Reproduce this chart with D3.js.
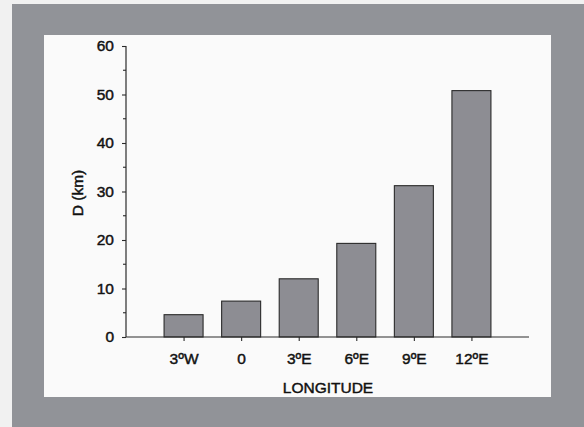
<!DOCTYPE html>
<html>
<head>
<meta charset="utf-8">
<script src="https://cdn.jsdelivr.net/npm/d3@7"></script>
<style>
  html, body { margin: 0; padding: 0; background: #f1f1f1; }
  svg { display: block; }
  text { font-family: "Liberation Sans", Arial, sans-serif; fill: #111; stroke: #111; stroke-width: 0.45px; }
</style>
</head>
<body>
<svg id="chart" width="584" height="427"></svg>
<script>
const categories = ["3ºW", "0", "3ºE", "6ºE", "9ºE", "12ºE"];
const values = [4.6, 7.4, 12.0, 19.3, 31.2, 50.8];
const yTicks = [0, 10, 20, 30, 40, 50, 60];
const yMinorTicks = [5, 15, 25, 35, 45, 55];
const xTitle = "LONGITUDE";
const yTitle = "D (km)";

const svg = d3.select("#chart");

// frame
svg.append("rect").attr("x", 12).attr("y", 4).attr("width", 572).attr("height", 423).attr("fill", "#919398");
svg.append("rect").attr("x", 44).attr("y", 35).attr("width", 507).attr("height", 362).attr("fill", "#fafafa");

const x = d3.scalePoint().domain(categories).range([126, 529]).padding(1);
const y = d3.scaleLinear().domain([0, 60]).range([337, 46]);
const barW = 39;

// bars
svg.append("g").selectAll("rect").data(values).join("rect")
  .attr("x", (d, i) => x(categories[i]) - barW / 2)
  .attr("y", d => y(d))
  .attr("width", barW)
  .attr("height", d => y(0) - y(d))
  .attr("fill", "#8d8d93")
  .attr("stroke", "#2a2a2a")
  .attr("stroke-width", 1.1);

// y axis
const yAxis = svg.append("g").attr("transform", "translate(126,0)")
  .call(d3.axisLeft(y).tickValues(yTicks).tickFormat(d3.format("d")).tickSize(4).tickPadding(8));
yAxis.append("g").selectAll("line").data(yMinorTicks).join("line")
  .attr("x1", -3).attr("x2", 0).attr("y1", d => y(d)).attr("y2", d => y(d))
  .attr("stroke", "#2a2a2a").attr("stroke-width", 1.1);
yAxis.select(".domain").attr("d", `M0,${y(60)}V${y(0)}`);

// x axis
const xAxis = svg.append("g").attr("transform", `translate(0,${y(0)})`)
  .call(d3.axisBottom(x).tickSize(4).tickPadding(12));
xAxis.select(".domain").attr("d", "M126,0H529");

svg.selectAll(".domain").attr("stroke", "#2a2a2a").attr("stroke-width", 1.2);
svg.selectAll(".tick line").attr("stroke", "#2a2a2a").attr("stroke-width", 1.1);
svg.selectAll(".tick text").attr("font-size", 15.5).attr("font-family", "'Liberation Sans', Arial, sans-serif").attr("fill", "#111");

// titles
svg.append("text").attr("x", 328).attr("y", 393).attr("text-anchor", "middle")
  .attr("font-size", 15.5).text(xTitle);
svg.append("text").attr("transform", "translate(83,193) rotate(-90)").attr("text-anchor", "middle")
  .attr("font-size", 15.5).text(yTitle);
</script>
</body>
</html>
